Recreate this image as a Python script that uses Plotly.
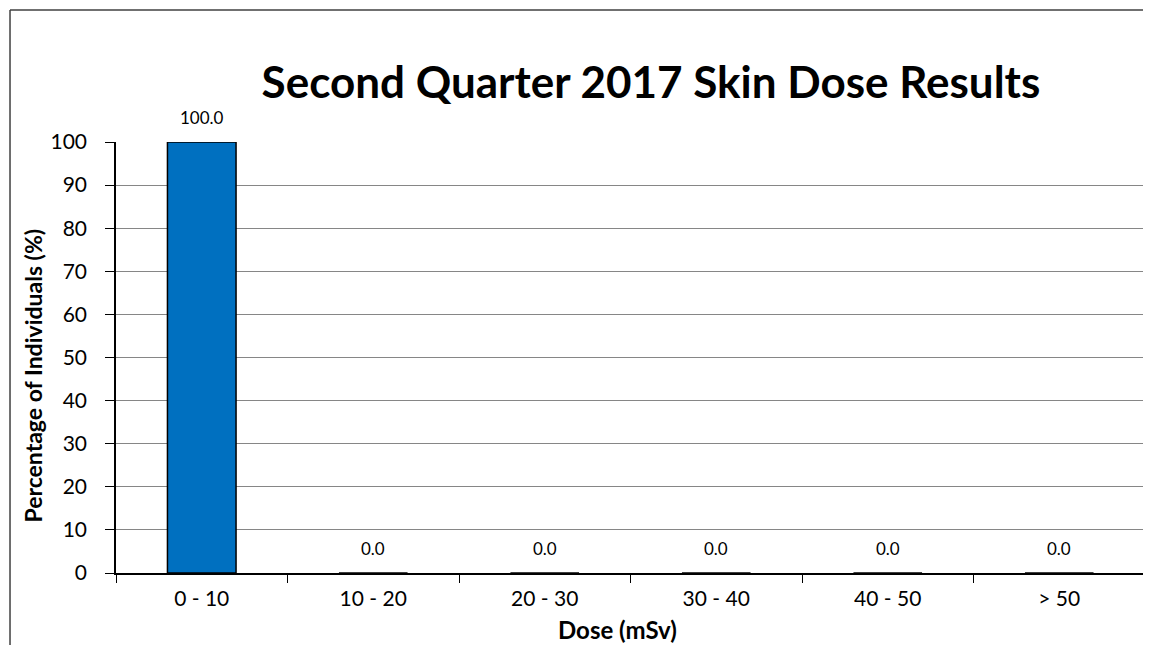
import plotly.graph_objects as go

# dose bands and share of individuals (%)
categorias = ["0 - 10", "10 - 20", "20 - 30", "30 - 40", "40 - 50", "> 50"]
porcentaje = [100.0, 0.0, 0.0, 0.0, 0.0, 0.0]
ticks_y = [0, 10, 20, 30, 40, 50, 60, 70, 80, 90, 100]

FONT = "Lato"

fig = go.Figure(data=[
    go.Bar(x=categorias, y=porcentaje, width=0.4,
           marker=dict(color="#0070C0", line=dict(color="black", width=1.5)),
           hoverinfo="x+y")
])

# etiquetas de datos encima de cada barra
for cat, val in zip(categorias, porcentaje):
    fig.add_annotation(x=cat, y=val, text=f"{val:.1f}", showarrow=False,
                       yshift=25, font=dict(family=FONT, size=17, color="black"))

# titulos de los ejes
fig.add_annotation(x=0.487, y=-0.132, xref="paper", yref="paper", text="<b>Dose (mSv)</b>",
                   xanchor="center", yanchor="middle",
                   showarrow=False, font=dict(family=FONT, size=24, color="black"))
fig.add_annotation(x=-0.0807, y=0.458, xref="paper", yref="paper",
                   text="<b>Percentage of Individuals (%)</b>", textangle=-90,
                   xanchor="center", yanchor="middle",
                   showarrow=False, font=dict(family=FONT, size=23, color="black"))

# marco exterior (izquierda y arriba) y borde derecho del area de trazado
fig.add_shape(type="line", xref="paper", yref="paper", x0=-0.103, y0=-0.2, x1=-0.103, y1=1.3063,
              line=dict(color="#404040", width=1.5))
fig.add_shape(type="line", xref="paper", yref="paper", x0=-0.103, y0=1.3063, x1=1.01, y1=1.3063,
              line=dict(color="#404040", width=1.5))
fig.add_shape(type="line", xref="paper", yref="paper", x0=1, y0=0, x1=1, y1=1,
              line=dict(color="#868686", width=1.5))

fig.update_layout(
    width=1151, height=645,
    margin=dict(l=108, r=14, t=134, b=80),
    paper_bgcolor="white", plot_bgcolor="white",
    showlegend=False,
    title=dict(text="<b>Second Quarter 2017 Skin Dose Results</b>", x=0.5586, xanchor="center",
               y=0.8837, yanchor="middle", font=dict(family=FONT, size=44, color="black")),
)
fig.update_xaxes(type="category", tickson="boundaries", ticks="outside", ticklen=8,
                 tickcolor="black", showline=True, linecolor="black", linewidth=1.5,
                 showgrid=False, ticklabelstandoff=6,
                 tickfont=dict(family=FONT, size=21, color="black"))
fig.update_yaxes(range=[0, 100], tickvals=ticks_y, ticks="outside", ticklen=9,
                 tickcolor="black", showline=True, linecolor="black", linewidth=1.5,
                 showgrid=True, gridcolor="#868686", gridwidth=1, zeroline=False,
                 ticklabelstandoff=14,
                 tickfont=dict(family=FONT, size=21, color="black"))

fig.write_html("out.html")
